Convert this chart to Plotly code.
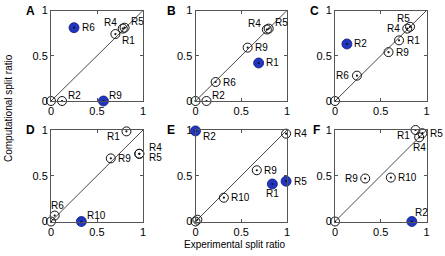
import plotly.graph_objects as go

W, H = 445, 256

# ---------------- data (experimental x, computational y) ----------------
panel_names = ["A", "B", "C", "D", "E", "F"]

A_lab = ["", "R2", "R9", "R6", "R1", "R4", "R5"]
A_x = [0.0, 0.12, 0.57, 0.25, 0.70, 0.78, 0.80]
A_y = [0.0, 0.0, 0.0, 0.81, 0.74, 0.80, 0.81]
A_agree = [1, 1, 0, 0, 1, 1, 1]

B_lab = ["", "R2", "R6", "R9", "R1", "R4", "R5"]
B_x = [0.0, 0.12, 0.22, 0.57, 0.69, 0.78, 0.80]
B_y = [0.0, 0.0, 0.21, 0.59, 0.42, 0.79, 0.80]
B_agree = [1, 1, 1, 1, 0, 1, 1]

C_lab = ["", "R6", "R9", "R1", "R4", "R5", "R2"]
C_x = [0.0, 0.24, 0.585, 0.70, 0.79, 0.82, 0.13]
C_y = [0.0, 0.28, 0.54, 0.67, 0.80, 0.82, 0.63]
C_agree = [1, 1, 1, 1, 1, 1, 0]

D_lab = ["", "R6", "R10", "R9", "R1", "R4", "R5"]
D_x = [0.0, 0.04, 0.33, 0.65, 0.82, 0.96, 0.96]
D_y = [0.0, 0.065, 0.0, 0.69, 0.985, 0.74, 0.74]
D_agree = [1, 1, 0, 1, 1, 1, 1]

E_lab = ["", "", "R10", "R9", "R4", "R2", "R1", "R5"]
E_x = [0.0, 0.02, 0.31, 0.67, 0.99, 0.0, 0.84, 0.99]
E_y = [0.0, 0.02, 0.26, 0.56, 0.96, 0.99, 0.41, 0.44]
E_agree = [1, 1, 1, 1, 1, 0, 0, 0]

F_lab = ["", "R9", "R10", "R1", "R5", "R4", "R2"]
F_x = [0.0, 0.33, 0.61, 0.88, 0.955, 0.92, 0.84]
F_y = [0.0, 0.47, 0.48, 1.0, 0.965, 0.92, 0.0]
F_agree = [1, 1, 1, 1, 1, 1, 0]

tick_vals = [0, 0.5, 1]
tick_text = ["0", "0.5", "1"]
x_title = "Experimental split ratio"
y_title = "Computational split ratio"

# ---------------- styling (label placement, layout) ----------------
A_pos = ["", "tr", "tr", "r", "br", "tl", "tr"]
B_pos = ["", "tr", "r", "r", "r", "tl", "tr"]
C_pos = ["", "l", "r", "r", "l", "tn", "r"]
D_pos = ["", "t", "tr", "r", "bl", "ro_u", "ro_d"]
E_pos = ["", "", "r", "r", "r", "br", "b", "r"]
F_pos = ["", "l", "r", "bl", "r", "b", "tc"]

offsets = {
    "r": (5.5, 0, "left"),
    "tr": (4, 6, "left"),
    "br": (5, -6, "left"),
    "l": (-5.5, 0, "right"),
    "tl": (-4, 6, "right"),
    "bl": (-4, -5, "right"),
    "t": (3, 10, "center"),
    "b": (0, -10, "center"),
    "tc": (1, 9, "left"),
    "tn": (2, 8, "right"),
    "ro_u": (8, 6, "left"),
    "ro_d": (8, -3.5, "left"),
}

panels = [
    (A_lab, A_x, A_y, A_agree, A_pos),
    (B_lab, B_x, B_y, B_agree, B_pos),
    (C_lab, C_x, C_y, C_agree, C_pos),
    (D_lab, D_x, D_y, D_agree, D_pos),
    (E_lab, E_x, E_y, E_agree, E_pos),
    (F_lab, F_x, F_y, F_agree, F_pos),
]

cols_px = [(51, 143), (195.5, 287), (335, 426.5)]
rows_px = [(10.5, 101), (130, 221.5)]
letter_px = [(30, 11), (171, 11), (314, 11), (30, 130), (171, 130), (316, 130)]

BLUE = "#2035c4"
AXC = "#555555"
FONT = "Arial, Liberation Sans, Helvetica, sans-serif"

fig = go.Figure()
annotations = []
layout_axes = {}

for i, (lab, xs, ys, agree, pos) in enumerate(panels):
    r, c = divmod(i, 3)
    x0, x1 = cols_px[c]
    yt, yb = rows_px[r]
    sfx = "" if i == 0 else str(i + 1)
    xa, ya = "x" + sfx, "y" + sfx

    common = dict(
        range=[0, 1], tickmode="array", tickvals=tick_vals, ticktext=tick_text,
        showticklabels=True, automargin=False,
        ticks="inside", ticklen=3, tickwidth=1, tickcolor=AXC,
        showline=True, linecolor=AXC, linewidth=1, mirror="ticks",
        showgrid=False, zeroline=False,
        tickfont=dict(family=FONT, size=11, color="#000"),
        fixedrange=True,
    )
    layout_axes["xaxis" + sfx] = dict(common, domain=[x0 / W, x1 / W], anchor=ya)
    layout_axes["yaxis" + sfx] = dict(common, domain=[(H - yb) / H, (H - yt) / H], anchor=xa)

    # diagonal
    fig.add_trace(go.Scatter(x=[0, 1], y=[0, 1], mode="lines", xaxis=xa, yaxis=ya,
                             line=dict(color="#333333", width=0.9), hoverinfo="skip",
                             showlegend=False, cliponaxis=False))
    ox = [x for x, a in zip(xs, agree) if a]
    oy = [y for y, a in zip(ys, agree) if a]
    fx = [x for x, a in zip(xs, agree) if not a]
    fy = [y for y, a in zip(ys, agree) if not a]
    fig.add_trace(go.Scatter(x=ox, y=oy, mode="markers", xaxis=xa, yaxis=ya,
                             marker=dict(symbol="circle-open", size=9, color="#111",
                                         line=dict(width=1, color="#111")),
                             showlegend=False, cliponaxis=False))
    fig.add_trace(go.Scatter(x=fx, y=fy, mode="markers", xaxis=xa, yaxis=ya,
                             marker=dict(symbol="circle", size=10, color=BLUE,
                                         line=dict(width=0.8, color="#101a70")),
                             showlegend=False, cliponaxis=False))
    # small centre dots on every point
    fig.add_trace(go.Scatter(x=xs, y=ys, mode="markers", xaxis=xa, yaxis=ya,
                             marker=dict(symbol="circle", size=2.2, color="#111",
                                         line=dict(width=0)),
                             showlegend=False, cliponaxis=False, hoverinfo="skip"))

    for t, x, y, p in zip(lab, xs, ys, pos):
        if not t:
            continue
        dx, dy, xanc = offsets[p]
        annotations.append(dict(x=x, y=y, xref=xa, yref=ya, text=t, showarrow=False,
                                xanchor=xanc, yanchor="middle", xshift=dx, yshift=dy,
                                font=dict(family=FONT, size=10, color="#000")))

    lx, ly = letter_px[i]
    annotations.append(dict(x=lx / W, y=(H - ly) / H, xref="paper", yref="paper",
                            text="<b>" + panel_names[i] + "</b>", showarrow=False,
                            xanchor="center", yanchor="middle",
                            font=dict(family=FONT, size=12, color="#000")))

annotations.append(dict(x=235 / W, y=(H - 244) / H, xref="paper", yref="paper",
                        text=x_title, showarrow=False, xanchor="center", yanchor="middle",
                        font=dict(family=FONT, size=10, color="#000")))
annotations.append(dict(x=8 / W, y=(H - 108) / H, xref="paper", yref="paper",
                        text=y_title, showarrow=False, xanchor="center", yanchor="middle",
                        textangle=-90, font=dict(family=FONT, size=10, color="#000")))

fig.update_layout(
    template="none",
    width=W, height=H, margin=dict(l=0, r=0, t=0, b=0, pad=0),
    paper_bgcolor="white", plot_bgcolor="white",
    annotations=annotations, showlegend=False,
    **layout_axes,
)

fig.write_html("out.html", include_plotlyjs=True, config={"displayModeBar": False},
               post_script="document.body.style.margin='0';document.body.style.overflow='hidden';")
